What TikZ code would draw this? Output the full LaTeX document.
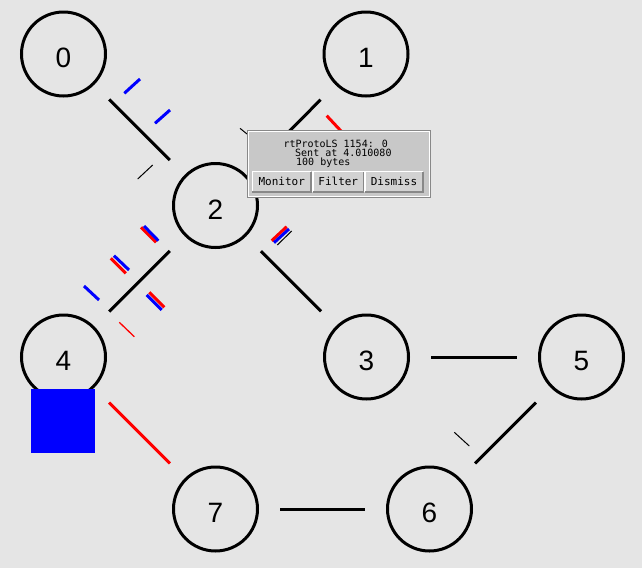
\documentclass[tikz,border=0pt]{standalone}
\usepackage{fontspec}
\setmainfont{Liberation Sans}
\newfontfamily\popmono{DejaVu Sans Mono}
\usetikzlibrary{calc}
\definecolor{bg}{HTML}{E5E5E5}
\definecolor{popbg}{HTML}{C8C8C8}
\definecolor{btnbg}{HTML}{D2D2D2}
\definecolor{edgegray}{HTML}{888888}
\definecolor{pblue}{HTML}{0000FF}
\definecolor{pred}{HTML}{FF0000}
\begin{document}
\begin{tikzpicture}[x=1pt,y=-1pt,
  nodecirc/.style={circle,draw=black,line width=3pt,minimum size=84pt,inner sep=0pt},
  nodelabel/.style={font=\fontsize{28}{28}\selectfont,inner sep=0pt},
  link/.style={line width=3pt,shorten <=21pt,shorten >=21pt},
  pkt/.style={line width=3pt},
  thinpkt/.style={line width=1pt},
  poptext/.style={font=\popmono\fontsize{10}{10}\selectfont,inner sep=0pt,anchor=base west},
  btn/.style={fill=btnbg,inner sep=0pt,minimum height=20pt,font=\popmono\fontsize{11}{11}\selectfont}]
\useasboundingbox (0,0) rectangle (642,568);
\fill[bg] (0,0) rectangle (642,568);

% nodes (circles)
\node[nodecirc] (n0) at (63.5,54) {};
\node[nodecirc] (n1) at (366,54) {};
\node[nodecirc] (n2) at (215.5,205.5) {};
\node[nodecirc] (n3) at (366.5,357) {};
\node[nodecirc] (n4) at (63.5,357) {};
\node[nodecirc] (n5) at (581.5,357) {};
\node[nodecirc] (n6) at (429.5,509) {};
\node[nodecirc] (n7) at (215.5,509) {};
\foreach \i in {0,...,7} {\node[nodelabel] (t\i) at ($(n\i)+(0,4)$) {\i};}

% links
\draw[link] (n0) -- (n2);
\draw[link] (n1) -- (n2);
\draw[link] (n2) -- (n3);
\draw[link] (n2) -- (n4);
\draw[link] (n3) -- (n5);
\draw[link] (n5) -- (n6);
\draw[link] (n7) -- (n6);
\draw[link,pred] (n4) -- (n7);

% packets
\draw[pkt,pblue] (124.3,93.3) -- (140,79);
\draw[pkt,pblue] (155,123.3) -- (170,110);
\draw[thinpkt] (137.7,179) -- (152.7,165);
\draw[thinpkt] (240,128.3) -- (247,134);
\draw[thinpkt] (454.3,432.3) -- (469.3,446);
\draw[thinpkt] (277.3,245) -- (291.7,231);
\draw[pkt,pred] (326.7,115.7) -- (341,131);
\draw[pkt,pred] (141,227.3) -- (156,242.3);
\draw[pkt,pblue] (144,226) -- (158.3,240.7);
\draw[pkt,pblue] (114,255.7) -- (129,270);
\draw[pkt,pred] (110.7,258.3) -- (125.7,273.3);
\draw[pkt,pred] (149.3,292.3) -- (164.3,307.3);
\draw[pkt,pblue] (146.7,295) -- (161.7,310);
\draw[pkt,pblue] (84,286) -- (99,300);
\draw[line width=1.3pt,pred] (119.3,322.3) -- (134.3,336.7);
\draw[pkt,pred] (271.7,240.7) -- (286.7,226.7);
\draw[pkt,pblue] (274,242.7) -- (289,229);

% queue marker at node 4
\fill[pblue] (31,389) rectangle (95,452.5);

% popup
\fill[popbg] (246.5,130) rectangle (430.5,198);
\draw[edgegray,line width=1pt] (247,130.5) rectangle (430,197.5);
\draw[white,line width=1pt] (248,131.5) rectangle (429,196.5);
\node[poptext] (p1) at (283.3,147) {rtProtoLS 1154: 0};
\node[poptext] (p2) at (295,156) {Sent at 4.010080};
\node[poptext] (p3) at (296,165) {100 bytes};

\node[btn,minimum width=58.5pt] (bmon) at (281.75,181.75) {Monitor};
\node[btn,minimum width=50.5pt] (bfil) at (338.25,181.75) {Filter};
\node[btn,minimum width=58pt] (bdis) at (394,181.75) {Dismiss};
\foreach \b in {bmon,bfil,bdis} {
  \draw[white,line width=1.5pt] (\b.south west) |- (\b.north east);
  \draw[edgegray,line width=1.5pt] (\b.south west) -| (\b.north east);
}
\end{tikzpicture}
\end{document}
